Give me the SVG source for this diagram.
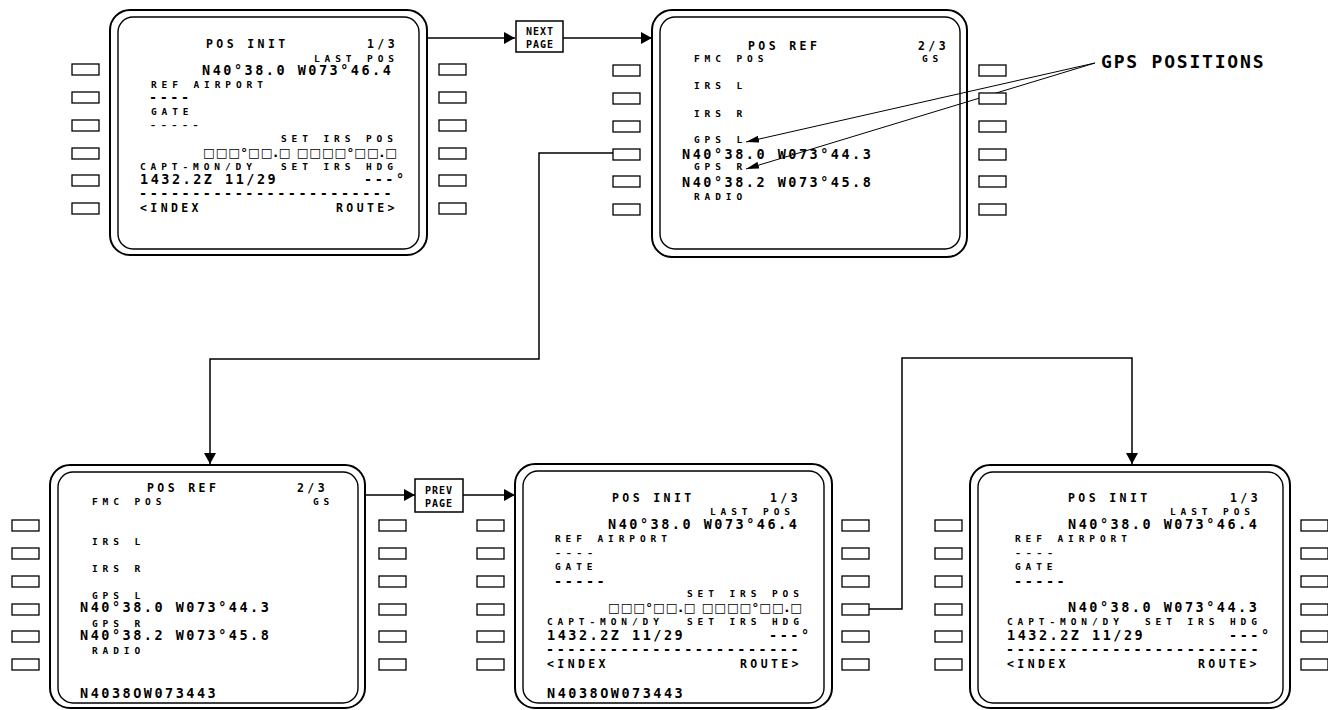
<svg xmlns="http://www.w3.org/2000/svg" width="1328" height="710" viewBox="0 0 1328 710">
<style>
text{font-family:"DejaVu Sans Mono","Liberation Mono",monospace;fill:#000}
.t{font-size:11.5px;letter-spacing:3.4px;font-weight:bold}
.s{font-size:9.5px;letter-spacing:4.9px;font-weight:bold}
.b{font-size:13.5px;letter-spacing:2.5px;font-weight:bold}
.bt{font-size:13.5px;letter-spacing:2.5px}
.sq{font-family:"DejaVu Sans",sans-serif;font-size:12.5px;font-weight:bold}
.box{font-size:10px;font-weight:bold;letter-spacing:1px;text-anchor:middle}
.lbl{font-size:18px;font-weight:bold;letter-spacing:1.8px}
.outer{fill:none;stroke:#000;stroke-width:2}
.inner{fill:none;stroke:#000;stroke-width:1.4}
.key{fill:#fff;stroke:#000;stroke-width:1.3}
.con{fill:none;stroke:#000;stroke-width:1.5}
.thin{fill:none;stroke:#000;stroke-width:1}
.pbox{fill:#fff;stroke:#000;stroke-width:1.5}
</style>
<defs>
<marker id="ah" markerUnits="userSpaceOnUse" markerWidth="12" markerHeight="12" refX="11" refY="6" orient="auto"><path d="M0,0 L11,6 L0,12 z" fill="#000"/></marker>
<marker id="ahs" markerUnits="userSpaceOnUse" markerWidth="14" markerHeight="8" refX="13" refY="4" orient="auto"><path d="M0,0.5 L13,4 L0,7.5 z" fill="#000"/></marker>
<g id="keys6">
<rect class="key" x="0" y="0" width="27" height="11"/>
<rect class="key" x="0" y="28" width="27" height="11"/>
<rect class="key" x="0" y="56" width="27" height="11"/>
<rect class="key" x="0" y="84" width="27" height="11"/>
<rect class="key" x="0" y="111" width="27" height="11"/>
<rect class="key" x="0" y="139" width="27" height="11"/>
</g>
</defs>

<g id="connectors">
<line class="con" x1="427" y1="38" x2="515" y2="38" marker-end="url(#ah)"/>
<line class="con" x1="563" y1="38" x2="652" y2="38" marker-end="url(#ah)"/>
<polyline class="con" points="613,153 539,153 539,359 210,359 210,464" marker-end="url(#ah)"/>
<line class="con" x1="365" y1="495" x2="415" y2="495" marker-end="url(#ah)"/>
<line class="con" x1="463" y1="495" x2="515" y2="495" marker-end="url(#ah)"/>
<polyline class="con" points="868,609 902,609 902,358 1132,358 1132,464" marker-end="url(#ah)"/>
<line class="thin" x1="1095" y1="63" x2="746" y2="142" marker-end="url(#ahs)"/>
<line class="thin" x1="1095" y1="63" x2="746" y2="169" marker-end="url(#ahs)"/>
</g>

<g id="next-page">
<rect class="pbox" x="516" y="21" width="47" height="31"/>
<text class="box" x="540" y="35">NEXT</text>
<text class="box" x="540" y="48">PAGE</text>
</g>

<g id="prev-page">
<rect class="pbox" x="415" y="479" width="48" height="33"/>
<text class="box" x="439" y="494">PREV</text>
<text class="box" x="439" y="507">PAGE</text>
</g>

<g id="gps-label">
<text class="lbl" x="1101" y="68">GPS POSITIONS</text>
</g>

<!-- Top-left: POS INIT 1/3 -->
<g id="cdu-pos-init-1">
<rect class="outer" x="110" y="10" width="317" height="245" rx="20"/>
<rect class="inner" x="118" y="17" width="301" height="232" rx="15"/>
<use href="#keys6" x="72" y="64"/>
<use href="#keys6" x="439" y="64"/>
<text class="t" x="206" y="48">POS INIT</text>
<text class="t" x="367" y="48">1/3</text>
<text class="s" x="314" y="62">LAST POS</text>
<text class="b" x="202" y="75">N40°38.0 W073°46.4</text>
<text class="s" x="151" y="88">REF AIRPORT</text>
<text class="b" x="149" y="102">----</text>
<text class="s" x="151" y="115">GATE</text>
<text class="bt" x="149" y="130">-----</text>
<text class="s" x="281" y="142">SET IRS POS</text>
<text class="sq" x="203" y="157" textLength="194" lengthAdjust="spacing">□□□°□□.□ □□□□°□□.□</text>
<text class="s" x="140" y="170">CAPT-MON/DY</text>
<text class="s" x="281" y="170">SET IRS HDG</text>
<text class="b" x="140" y="184">1432.2Z 11/29</text>
<text class="b" x="364" y="184">---°</text>
<text class="b" x="139" y="198">------------------------</text>
<text class="t" x="140" y="212">&lt;INDEX</text>
<text class="t" x="336" y="212">ROUTE&gt;</text>
</g>

<!-- Top-right: POS REF 2/3 -->
<g id="cdu-pos-ref-top">
<rect class="outer" x="652" y="10" width="315" height="247" rx="20"/>
<rect class="inner" x="660" y="17" width="300" height="232" rx="15"/>
<use href="#keys6" x="613" y="65"/>
<use href="#keys6" x="979" y="65"/>
<text class="t" x="748" y="50">POS REF</text>
<text class="t" x="918" y="50">2/3</text>
<text class="s" x="694" y="62">FMC POS</text>
<text class="s" x="922" y="62">GS</text>
<text class="s" x="694" y="89">IRS L</text>
<text class="s" x="694" y="117">IRS R</text>
<text class="s" x="694" y="143">GPS L</text>
<text class="b" x="682" y="159">N40°38.0 W073°44.3</text>
<text class="s" x="694" y="170">GPS R</text>
<text class="b" x="682" y="187">N40°38.2 W073°45.8</text>
<text class="s" x="694" y="200">RADIO</text>
</g>

<!-- Bottom-left: POS REF 2/3 -->
<g id="cdu-pos-ref-bottom">
<rect class="outer" x="50" y="465" width="315" height="243" rx="20"/>
<rect class="inner" x="58" y="472" width="300" height="231" rx="15"/>
<use href="#keys6" x="12" y="520"/>
<use href="#keys6" x="379" y="520"/>
<text class="t" x="147" y="492">POS REF</text>
<text class="t" x="297" y="492">2/3</text>
<text class="s" x="92" y="505">FMC POS</text>
<text class="s" x="313" y="505">GS</text>
<text class="s" x="92" y="545">IRS L</text>
<text class="s" x="92" y="572">IRS R</text>
<text class="s" x="92" y="599">GPS L</text>
<text class="b" x="80" y="612">N40°38.0 W073°44.3</text>
<text class="s" x="92" y="627">GPS R</text>
<text class="b" x="80" y="640">N40°38.2 W073°45.8</text>
<text class="s" x="92" y="654">RADIO</text>
<text class="b" x="80" y="698">N4038OW073443</text>
</g>

<!-- Bottom-middle: POS INIT 1/3 with scratchpad -->
<g id="cdu-pos-init-2">
<rect class="outer" x="515" y="464" width="317" height="244" rx="20"/>
<rect class="inner" x="523" y="471" width="301" height="232" rx="15"/>
<use href="#keys6" x="477" y="520"/>
<use href="#keys6" x="842" y="520"/>
<text class="t" x="612" y="502">POS INIT</text>
<text class="t" x="770" y="502">1/3</text>
<text class="s" x="710" y="515">LAST POS</text>
<text class="b" x="608" y="529">N40°38.0 W073°46.4</text>
<text class="s" x="555" y="542">REF AIRPORT</text>
<text class="bt" x="554" y="558">----</text>
<text class="s" x="555" y="570">GATE</text>
<text class="b" x="554" y="586">-----</text>
<text class="s" x="687" y="597">SET IRS POS</text>
<text class="sq" x="608" y="612" textLength="194" lengthAdjust="spacing">□□□°□□.□ □□□□°□□.□</text>
<text class="s" x="547" y="625">CAPT-MON/DY</text>
<text class="s" x="687" y="625">SET IRS HDG</text>
<text class="b" x="547" y="640">1432.2Z 11/29</text>
<text class="b" x="769" y="640">---°</text>
<text class="b" x="546" y="654">------------------------</text>
<text class="t" x="547" y="668">&lt;INDEX</text>
<text class="t" x="740" y="668">ROUTE&gt;</text>
<text class="b" x="547" y="698">N4038OW073443</text>
</g>

<!-- Bottom-right: POS INIT 1/3 with GPS position -->
<g id="cdu-pos-init-3">
<rect class="outer" x="970" y="465" width="320" height="243" rx="20"/>
<rect class="inner" x="978" y="472" width="305" height="231" rx="15"/>
<use href="#keys6" x="935" y="520"/>
<use href="#keys6" x="1301" y="520"/>
<text class="t" x="1068" y="502">POS INIT</text>
<text class="t" x="1230" y="502">1/3</text>
<text class="s" x="1170" y="515">LAST POS</text>
<text class="b" x="1068" y="529">N40°38.0 W073°46.4</text>
<text class="s" x="1015" y="542">REF AIRPORT</text>
<text class="bt" x="1014" y="558">----</text>
<text class="s" x="1015" y="570">GATE</text>
<text class="b" x="1014" y="586">-----</text>
<text class="b" x="1068" y="612">N40°38.0 W073°44.3</text>
<text class="s" x="1007" y="625">CAPT-MON/DY</text>
<text class="s" x="1145" y="625">SET IRS HDG</text>
<text class="b" x="1007" y="640">1432.2Z 11/29</text>
<text class="b" x="1229" y="640">---°</text>
<text class="b" x="1006" y="654">------------------------</text>
<text class="t" x="1007" y="668">&lt;INDEX</text>
<text class="t" x="1198" y="668">ROUTE&gt;</text>
</g>
</svg>
